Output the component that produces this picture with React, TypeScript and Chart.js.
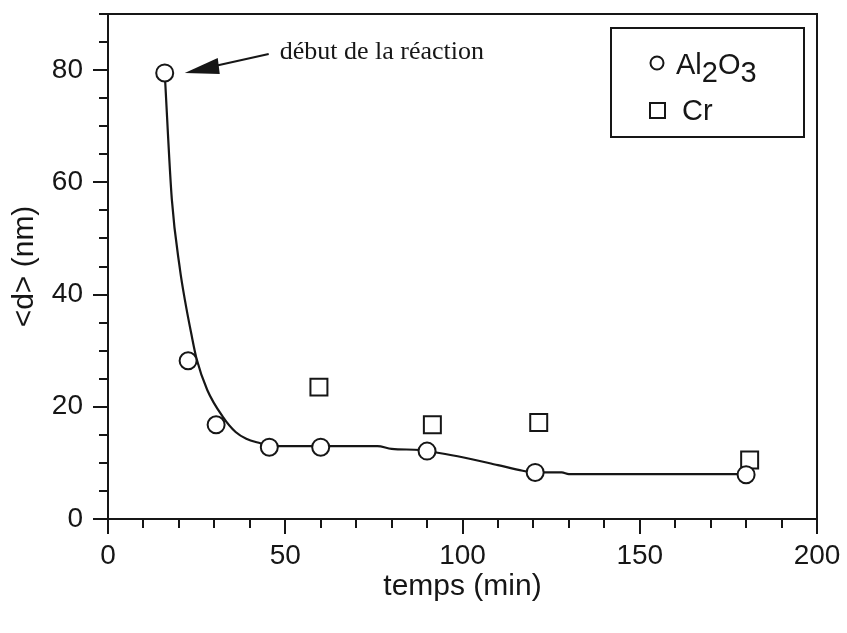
import React, { useEffect, useRef } from 'react';
import { Chart, registerables } from 'chart.js';

Chart.register(...registerables);

// Al2O3 particle size (circles)
const alTime = [16, 22.6, 30.5, 45.5, 60, 90, 120.5, 180];
const alSize = [79.5, 28.2, 16.8, 12.8, 12.8, 12.1, 8.3, 7.9];

// Cr particle size (squares)
const crTime = [59.5, 91.5, 121.5, 181];
const crSize = [23.5, 16.8, 17.2, 10.5];

// hand-drawn guide curve
const fitTime = [16, 18, 20.3, 21.7, 23.5, 25, 28, 32.4, 36, 39, 43, 46, 60, 76, 80, 88, 93, 100, 110, 117, 120, 128, 130, 180];
const fitSize = [79.5, 57, 44.5, 39, 33, 28.5, 23, 18.2, 15.5, 14.3, 13.5, 13, 13, 13, 12.5, 12.3, 11.8, 11, 9.6, 8.6, 8.3, 8.3, 8.0, 8.0];

const xTickValues = [0, 50, 100, 150, 200];
const yTickValues = [0, 20, 40, 60, 80];
const xMinorStep = 10;
const yMinorStep = 5;

const xTitle = 'temps (min)';
const yTitle = '<d> (nm)';
const annotationText = 'début de la réaction';

const INK = '#161616';
const SANS = '"Liberation Sans", Arial, Helvetica, sans-serif';
const SERIF = '"Liberation Serif", "Times New Roman", serif';

const decorPlugin = {
  id: 'decor',
  afterDraw(chart: any) {
    const { ctx, chartArea, scales } = chart;
    const xs = scales.x;
    const ys = scales.y;
    ctx.save();
    ctx.strokeStyle = INK;
    ctx.fillStyle = INK;
    ctx.lineWidth = 2;
    ctx.lineCap = 'butt';

    // top and right frame
    ctx.beginPath();
    ctx.moveTo(chartArea.left - 1, chartArea.top);
    ctx.lineTo(chartArea.right, chartArea.top);
    ctx.lineTo(chartArea.right, chartArea.bottom);
    ctx.stroke();

    // minor ticks
    ctx.beginPath();
    for (let v = xs.min; v <= xs.max; v += xMinorStep) {
      if (xTickValues.includes(v)) continue;
      const px = Math.round(xs.getPixelForValue(v));
      ctx.moveTo(px, chartArea.bottom);
      ctx.lineTo(px, chartArea.bottom + 9);
    }
    for (let v = ys.min; v <= ys.max; v += yMinorStep) {
      if (yTickValues.includes(v)) continue;
      const py = Math.round(ys.getPixelForValue(v));
      ctx.moveTo(chartArea.left, py);
      ctx.lineTo(chartArea.left - 9, py);
    }
    ctx.stroke();

    // legend box
    const bx = chartArea.right - 206;
    const by = chartArea.top + 14;
    const bw = 193;
    const bh = 109;
    ctx.strokeRect(bx, by, bw, bh);

    ctx.font = `29px ${SANS}`;
    ctx.textBaseline = 'alphabetic';
    ctx.textAlign = 'left';
    // circle entry
    ctx.beginPath();
    ctx.arc(bx + 46, by + 35, 6.5, 0, Math.PI * 2);
    ctx.fillStyle = '#fff';
    ctx.fill();
    ctx.stroke();
    ctx.fillStyle = INK;
    let tx = bx + 65;
    const base1 = by + 46;
    const parts: [string, number][] = [['Al', 0], ['2', 8], ['O', 0], ['3', 8]];
    for (const [t, dy] of parts) {
      ctx.fillText(t, tx, base1 + dy);
      tx += ctx.measureText(t).width;
    }
    // square entry
    ctx.strokeRect(bx + 39, by + 75, 15, 15);
    ctx.fillText('Cr', bx + 71, by + 92);

    // annotation arrow
    const px0 = xs.getPixelForValue(alTime[0]);
    const py0 = ys.getPixelForValue(alSize[0]);
    const tipX = px0 + 20;
    const tipY = py0;
    ctx.beginPath();
    ctx.moveTo(tipX, tipY);
    ctx.lineTo(tipX + 33, tipY - 15);
    ctx.lineTo(tipX + 35, tipY + 1);
    ctx.closePath();
    ctx.fill();
    ctx.beginPath();
    ctx.moveTo(tipX + 30, tipY - 7);
    ctx.lineTo(tipX + 84, tipY - 19);
    ctx.stroke();

    ctx.font = `26px ${SERIF}`;
    ctx.textBaseline = 'middle';
    ctx.fillText(annotationText, tipX + 95, tipY - 21);
    ctx.restore();
  },
};

export default function App() {
  const ref = useRef<HTMLCanvasElement>(null);

  useEffect(() => {
    const canvas = ref.current;
    if (!canvas) return;
    Chart.defaults.font.family = SANS;
    Chart.defaults.color = INK;

    const chart = new Chart(canvas, {
      type: 'scatter',
      data: {
        datasets: [
          {
            label: 'Al2O3',
            data: alTime.map((t, i) => ({ x: t, y: alSize[i] })),
            pointStyle: 'circle',
            pointRadius: 8.5,
            pointBorderWidth: 2,
            pointBorderColor: INK,
            pointBackgroundColor: '#fff',
            showLine: false,
            order: 1,
          },
          {
            label: 'Cr',
            data: crTime.map((t, i) => ({ x: t, y: crSize[i] })),
            pointStyle: 'rect',
            pointRadius: 12,
            pointBorderWidth: 2,
            pointBorderColor: INK,
            pointBackgroundColor: '#fff',
            showLine: false,
            order: 1,
          },
          {
            label: 'fit',
            data: fitTime.map((t, i) => ({ x: t, y: fitSize[i] })),
            showLine: true,
            pointRadius: 0,
            borderColor: INK,
            borderWidth: 2.2,
            cubicInterpolationMode: 'monotone',
            order: 3,
          } as any,
        ],
      },
      options: {
        responsive: false,
        animation: false,
        devicePixelRatio: 1,
        layout: { padding: { left: 0, top: 14, right: 30, bottom: 0 }, autoPadding: false },
        plugins: { legend: { display: false }, tooltip: { enabled: false } },
        scales: {
          x: {
            type: 'linear',
            min: 0,
            max: 200,
            afterBuildTicks: (s: any) => {
              s.ticks = xTickValues.map((v) => ({ value: v }));
            },
            afterFit: (s: any) => {
              s.height = 114;
              s.paddingLeft = 0;
              s.paddingRight = 0;
            },
            border: { display: true, color: INK, width: 2 },
            grid: { drawOnChartArea: false, drawTicks: true, tickLength: 15, color: INK, lineWidth: 2 },
            ticks: { font: { size: 28 }, color: INK, padding: 5, maxRotation: 0 },
            title: { display: true, text: xTitle, font: { size: 30 }, color: INK, padding: { bottom: 28, top: 0 } },
          },
          y: {
            type: 'linear',
            min: 0,
            max: 90,
            afterBuildTicks: (s: any) => {
              s.ticks = yTickValues.map((v) => ({ value: v }));
            },
            afterFit: (s: any) => {
              s.width = 108;
              s.paddingTop = 0;
              s.paddingBottom = 0;
            },
            border: { display: true, color: INK, width: 2 },
            grid: { drawOnChartArea: false, drawTicks: true, tickLength: 15, color: INK, lineWidth: 2 },
            ticks: { font: { size: 28 }, color: INK, padding: 10 },
            title: { display: true, text: yTitle, font: { size: 30 }, color: INK, padding: { top: 7, bottom: 0 } },
          },
        },
      },
      plugins: [decorPlugin],
    } as any);
    return () => chart.destroy();
  }, []);

  return (
    <div style={{ position: 'absolute', left: 0, top: 0, width: 847, height: 633, background: '#fff' }}>
      <canvas ref={ref} width={847} height={633} style={{ width: 847, height: 633, display: 'block' }} />
    </div>
  );
}
